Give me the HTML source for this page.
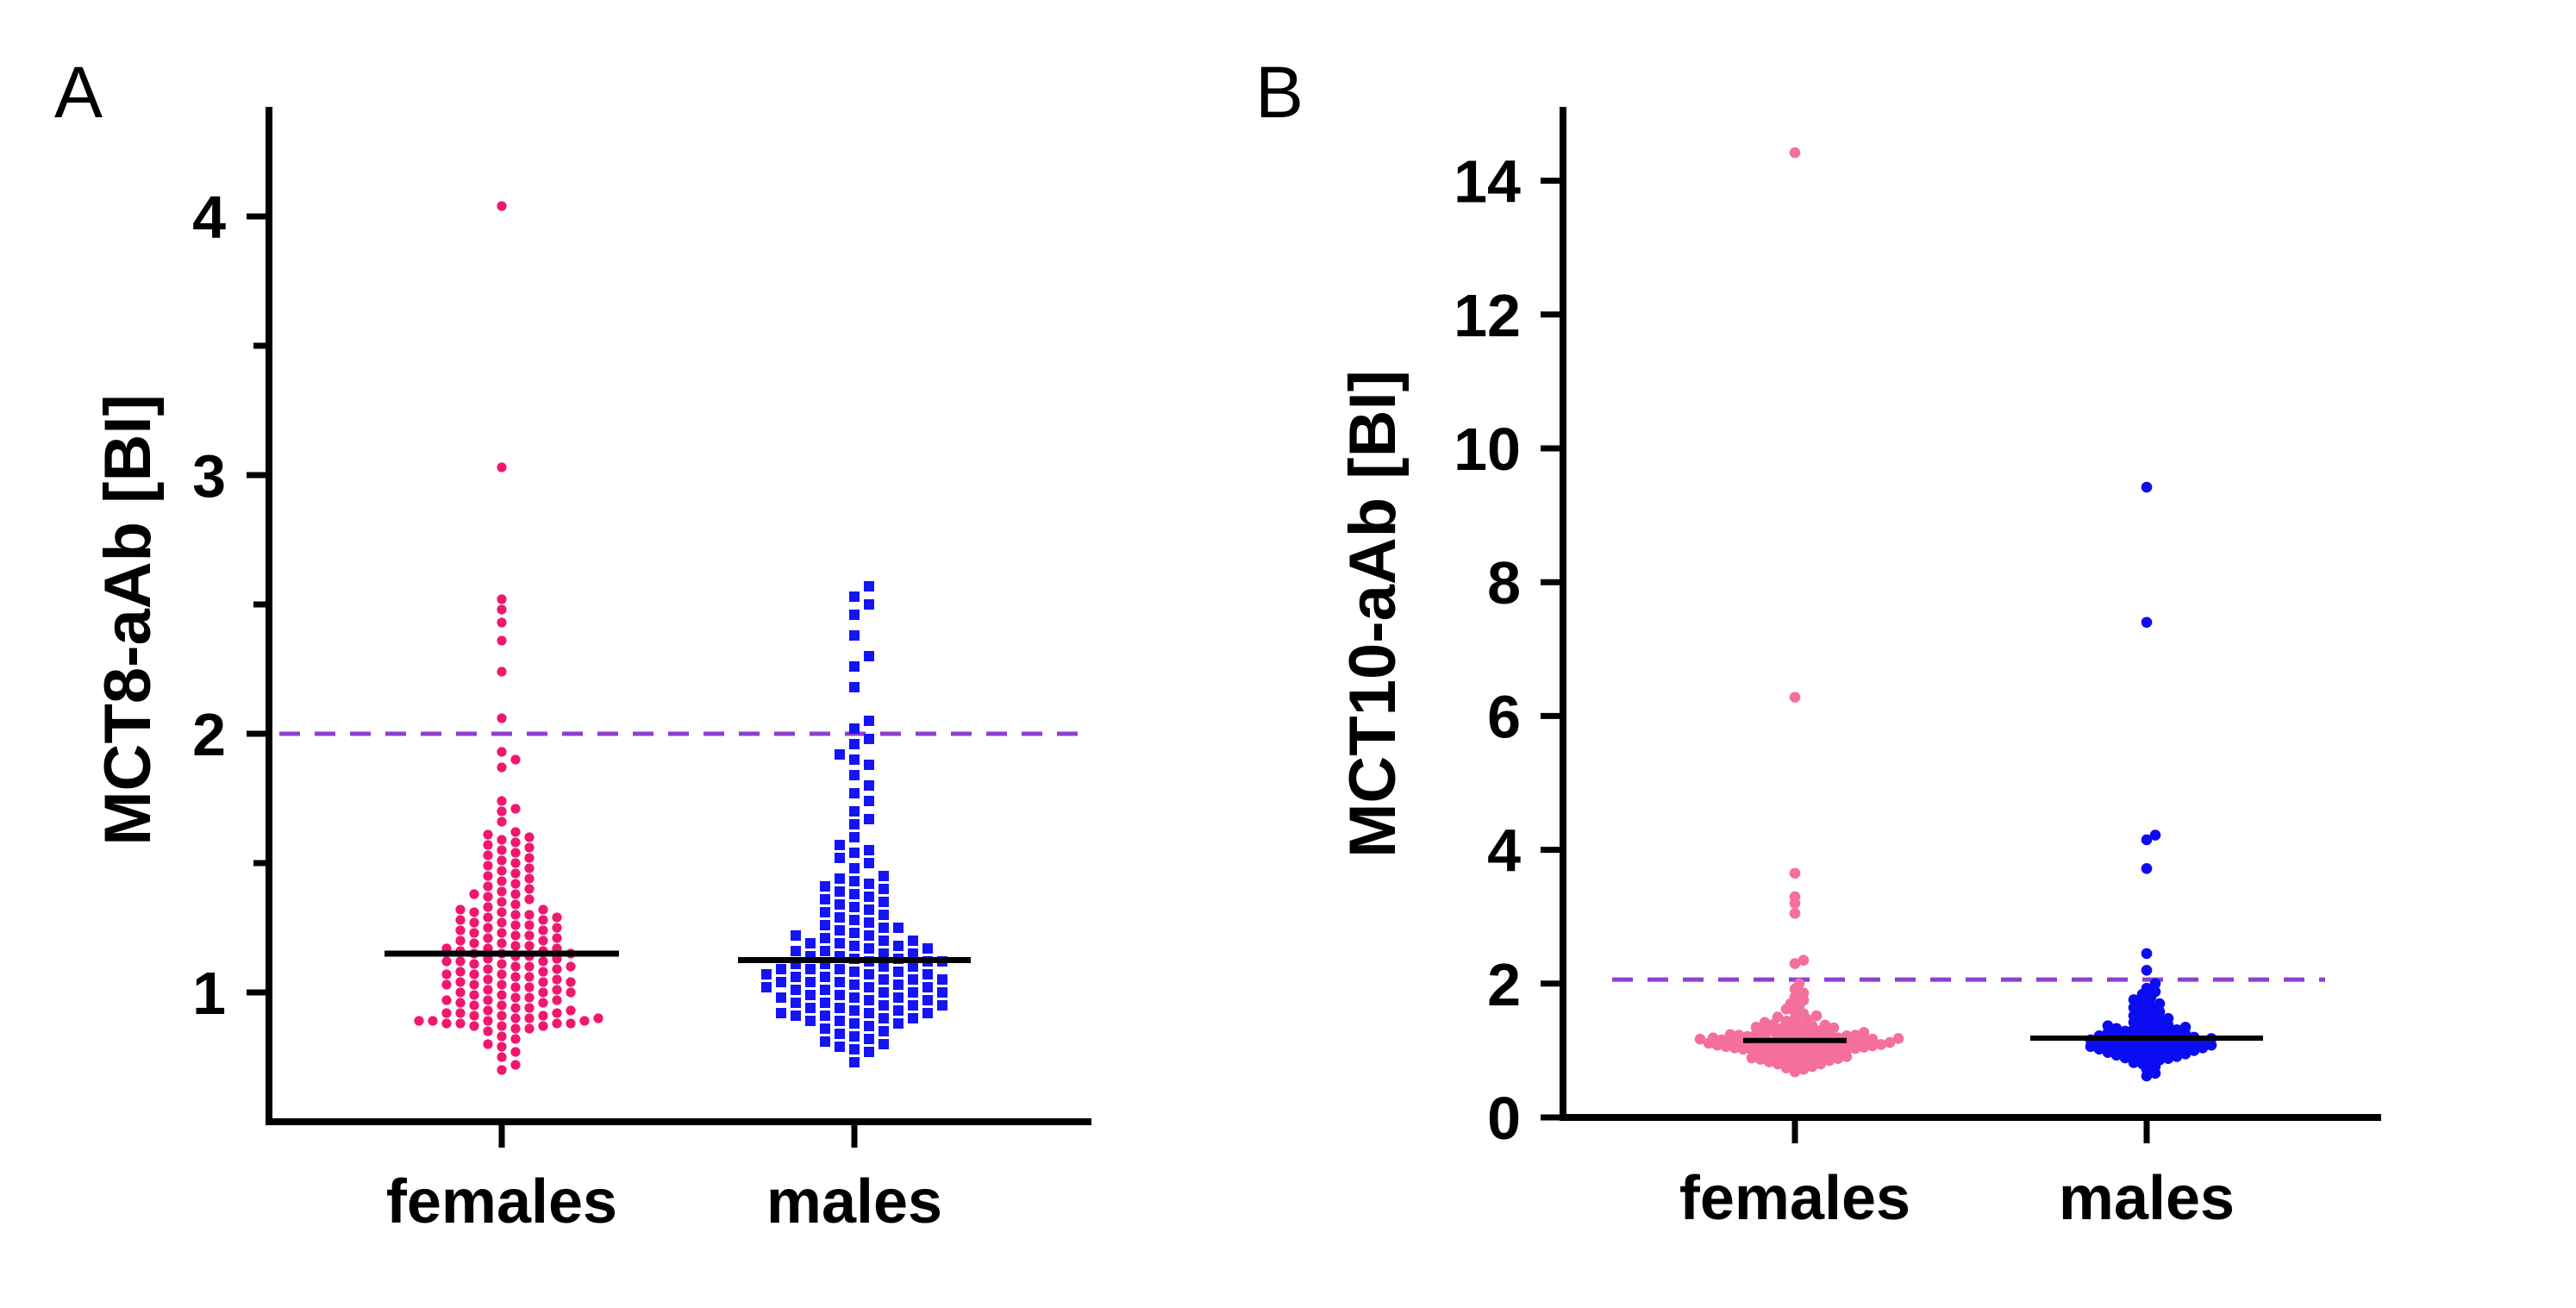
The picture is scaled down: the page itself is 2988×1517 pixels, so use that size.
<!DOCTYPE html>
<html><head><meta charset="utf-8"><style>
html,body{margin:0;padding:0;background:#fff;}
svg{display:block;font-family:"Liberation Sans",Arial,sans-serif;}
</style></head><body>
<svg id="fig" width="2988" height="1517" viewBox="0 0 2988 1517" xmlns="http://www.w3.org/2000/svg">
<text x="63" y="136" font-size="84">A</text>
<text x="1456" y="136" font-size="84">B</text>
<g id="pa"></g>
<g id="pb"></g>
</svg>
<script>
const categories = ["females", "males"];
const femalesA = [0.70,0.72,0.75,0.77,0.79,0.80,0.82,0.83,0.85,0.86,0.86,0.87,0.87,0.87,0.88,0.88,0.88,0.88,0.89,0.89,0.89,0.89,0.90,0.90,0.90,0.91,0.91,0.91,0.92,0.92,0.92,0.93,0.93,0.94,0.94,0.95,0.95,0.96,0.96,0.97,0.97,0.97,0.98,0.98,0.99,0.99,1.00,1.00,1.00,1.01,1.01,1.02,1.02,1.03,1.03,1.03,1.04,1.04,1.04,1.05,1.05,1.06,1.06,1.07,1.07,1.07,1.08,1.08,1.09,1.09,1.10,1.10,1.10,1.11,1.11,1.12,1.12,1.12,1.13,1.13,1.14,1.14,1.15,1.15,1.15,1.16,1.16,1.17,1.17,1.17,1.18,1.18,1.19,1.19,1.20,1.20,1.21,1.21,1.22,1.22,1.23,1.23,1.24,1.24,1.25,1.25,1.26,1.26,1.27,1.27,1.28,1.28,1.29,1.29,1.30,1.30,1.31,1.31,1.32,1.32,1.33,1.34,1.35,1.36,1.37,1.38,1.38,1.39,1.40,1.41,1.42,1.43,1.44,1.45,1.46,1.47,1.48,1.49,1.50,1.51,1.52,1.53,1.54,1.55,1.56,1.57,1.58,1.59,1.60,1.61,1.62,1.66,1.70,1.71,1.74,1.87,1.90,1.93,2.06,2.24,2.36,2.43,2.48,2.52,3.03,4.04];
const malesA = [0.73,0.77,0.78,0.79,0.80,0.81,0.82,0.83,0.84,0.85,0.86,0.87,0.88,0.88,0.89,0.89,0.90,0.90,0.91,0.91,0.92,0.92,0.92,0.93,0.93,0.94,0.94,0.95,0.95,0.95,0.96,0.96,0.97,0.97,0.98,0.98,0.98,0.99,0.99,1.00,1.00,1.00,1.01,1.01,1.02,1.02,1.02,1.03,1.03,1.04,1.04,1.04,1.05,1.05,1.05,1.06,1.06,1.07,1.07,1.07,1.08,1.08,1.09,1.09,1.09,1.10,1.10,1.11,1.11,1.12,1.12,1.12,1.13,1.13,1.14,1.14,1.15,1.15,1.16,1.16,1.17,1.17,1.18,1.18,1.19,1.19,1.20,1.20,1.21,1.22,1.22,1.23,1.24,1.25,1.25,1.26,1.27,1.28,1.29,1.30,1.31,1.32,1.33,1.34,1.35,1.36,1.37,1.38,1.39,1.40,1.41,1.42,1.43,1.44,1.45,1.48,1.50,1.52,1.54,1.55,1.57,1.60,1.65,1.67,1.70,1.74,1.77,1.80,1.84,1.88,1.90,1.92,1.96,1.98,2.02,2.05,2.18,2.26,2.30,2.38,2.46,2.50,2.53,2.57];
const femalesB = [0.68,0.72,0.74,0.76,0.78,0.80,0.80,0.82,0.83,0.84,0.85,0.86,0.87,0.88,0.88,0.89,0.90,0.90,0.91,0.92,0.93,0.94,0.95,0.96,0.97,0.98,0.99,1.00,1.00,1.01,1.01,1.02,1.02,1.03,1.03,1.04,1.04,1.05,1.05,1.06,1.06,1.07,1.07,1.08,1.08,1.09,1.09,1.10,1.10,1.10,1.11,1.11,1.12,1.12,1.12,1.13,1.13,1.14,1.14,1.15,1.15,1.15,1.16,1.16,1.17,1.17,1.18,1.18,1.19,1.19,1.20,1.20,1.21,1.21,1.22,1.22,1.23,1.23,1.24,1.24,1.25,1.25,1.26,1.27,1.28,1.29,1.30,1.31,1.32,1.33,1.34,1.35,1.36,1.37,1.38,1.39,1.40,1.42,1.44,1.46,1.48,1.50,1.52,1.55,1.58,1.62,1.66,1.70,1.75,1.80,1.86,1.92,2.00,2.30,2.35,3.05,3.20,3.30,3.65,6.28,14.42];
const malesB = [0.62,0.66,0.72,0.76,0.80,0.82,0.84,0.86,0.88,0.89,0.90,0.91,0.92,0.93,0.94,0.95,0.96,0.97,0.98,0.99,1.00,1.00,1.01,1.02,1.02,1.03,1.04,1.04,1.05,1.06,1.06,1.07,1.08,1.08,1.09,1.10,1.10,1.11,1.12,1.12,1.13,1.14,1.14,1.15,1.16,1.16,1.17,1.18,1.18,1.19,1.20,1.20,1.21,1.22,1.22,1.23,1.24,1.25,1.26,1.27,1.28,1.29,1.30,1.31,1.32,1.33,1.34,1.35,1.36,1.37,1.38,1.40,1.42,1.44,1.46,1.48,1.50,1.52,1.55,1.58,1.61,1.64,1.67,1.70,1.73,1.76,1.80,1.84,1.88,1.93,2.00,2.20,2.45,3.72,4.15,4.22,7.40,9.42];
const ticksA = [1, 2, 3, 4];
const minorTicksA = [1.5, 2.5, 3.5];
const ticksB = [0, 2, 4, 6, 8, 10, 12, 14];
const cutoffA = 2.0;
const cutoffB = 2.06;

const NS = "http://www.w3.org/2000/svg";
function mk(tag, attrs, parent, txt) {
  const e = document.createElementNS(NS, tag);
  for (const k in attrs) e.setAttribute(k, attrs[k]);
  if (txt !== undefined) e.textContent = txt;
  parent.appendChild(e);
  return e;
}
function median(a) { const s = [...a].sort((x,y)=>x-y); const n=s.length; return n%2 ? s[(n-1)/2] : (s[n/2-1]+s[n/2])/2; }
function swarm(vals, yf, cx, step, d) {
  const sorted = [...vals].sort((a,b)=>a-b);
  const placed = [];
  for (const v of sorted) {
    const y = yf(v);
    for (let k = 0; k < 400; k++) {
      const off = k === 0 ? 0 : (k % 2 ? 1 : -1) * Math.ceil(k/2) * step;
      const x = cx + off;
      let ok = true;
      for (const p of placed) { const dx=p.x-x, dy=p.y-y; if (dx*dx+dy*dy < d*d) { ok=false; break; } }
      if (ok) { placed.push({x, y, v}); break; }
    }
  }
  return placed;
}

function panel(g, cfg) {
  const y = v => cfg.y0 - (v - cfg.vmin) * cfg.ppu;
  const xs = [cfg.xF, cfg.xM];
  const dl = mk("line", {x1: cfg.dashX1, x2: cfg.dashX2, y1: y(cfg.cutoff), y2: y(cfg.cutoff), stroke: "#8f3fcf", "stroke-width": 5, "stroke-dasharray": "24 17"}, g);
  
  
  const series = [cfg.fVals, cfg.mVals];
  series.forEach((vals, i) => {
    const grp = mk("g", {}, g);
    
    
    const pts = swarm(vals, y, xs[i], cfg.step[i], cfg.d[i]);
    pts.forEach(p => {
      let el;
      if (cfg.square && i === 1) el = mk("rect", {x: p.x - 6, y: p.y - 6, width: 12, height: 12, fill: cfg.colors[i]}, grp);
      else el = mk("circle", {cx: p.x, cy: p.y, r: cfg.r, fill: cfg.colors[i]}, grp);
      
      
    });
    const m = median(vals);
    const ml = mk("line", {x1: xs[i] - cfg.medHalf[i], x2: xs[i] + cfg.medHalf[i], y1: y(m), y2: y(m), stroke: "#000", "stroke-width": cfg.medW}, g);
    
    
  });
  const ya = mk("line", {x1: cfg.ax, x2: cfg.ax, y1: cfg.top, y2: cfg.y0 + 4, stroke: "#000", "stroke-width": 8}, g);
  
  
  const xa = mk("line", {x1: cfg.ax - 4, x2: cfg.right, y1: cfg.y0, y2: cfg.y0, stroke: "#000", "stroke-width": 8}, g);
  
  
  cfg.ticks.forEach(t => {
    const tl = mk("line", {x1: cfg.ax - 26, x2: cfg.ax, y1: y(t), y2: y(t), stroke: "#000", "stroke-width": 7}, g);
    
    
    const tx = mk("text", {x: cfg.labR, y: y(t) + 25, "font-size": 70, "font-weight": "bold", "text-anchor": "end"}, g, String(t));
    
    
  });
  (cfg.minor || []).forEach(t => {
    const tl = mk("line", {x1: cfg.ax - 18, x2: cfg.ax, y1: y(t), y2: y(t), stroke: "#000", "stroke-width": 7}, g);
    
    
  });
  xs.forEach((x, i) => {
    const tl = mk("line", {x1: x, x2: x, y1: cfg.y0, y2: cfg.y0 + 30, stroke: "#000", "stroke-width": 7}, g);
    
    
    const tx = mk("text", {x: x, y: cfg.catY, "font-size": 72, "font-weight": "bold", "text-anchor": "middle"}, g, categories[i]);
    
    
  });
  const tt = mk("text", {x: 0, y: 0, "font-size": 76, "font-weight": "bold", "text-anchor": "middle", transform: `translate(${cfg.titleX},${cfg.titleY}) rotate(-90)`}, g, cfg.title);
  
  
}

panel(document.getElementById("pa"), {
  y0: 1301, vmin: 0.5, ppu: 300, top: 124, ax: 312, right: 1266,
  xF: 582, xM: 991, dashX1: 324, dashX2: 1263, cutoff: cutoffA,
  fVals: femalesA, mVals: malesA, step: [16, 17], d: [12, 12.5], square: true, r: 5.6,
  colors: ["#f0176f", "#1414f5"], medHalf: [136, 135], medW: 7,
  ticks: ticksA, minor: minorTicksA, labR: 262, catY: 1418,
  title: "MCT8-aAb [BI]", titleX: 174, titleY: 719
});
panel(document.getElementById("pb"), {
  y0: 1296, vmin: 0, ppu: 77.6, top: 124, ax: 1813, right: 2762,
  xF: 2082, xM: 2490, dashX1: 1870, dashX2: 2697, cutoff: cutoffB,
  fVals: femalesB, mVals: malesB, step: [5, 5], d: [7.5, 7.5], square: false, r: 6.3,
  colors: ["#f4709b", "#0c0cf2"], medHalf: [60, 135], medW: 6,
  ticks: ticksB, minor: [], labR: 1764, catY: 1414,
  title: "MCT10-aAb [BI]", titleX: 1618, titleY: 712
});
</script>
</body></html>
